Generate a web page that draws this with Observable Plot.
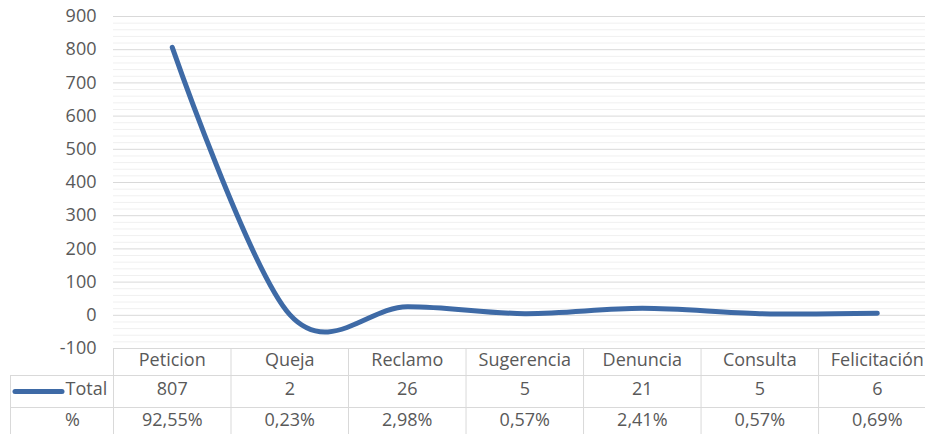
<!DOCTYPE html>
<html>
<head>
<meta charset="utf-8">
<script src="https://cdn.jsdelivr.net/npm/d3@7"></script>
<script src="https://cdn.jsdelivr.net/npm/@observablehq/plot@0.6"></script>
<style>
  html, body { margin: 0; padding: 0; background: #fff; }
  #chart svg { overflow: visible; display: block; }
</style>
</head>
<body>
<div id="chart"></div>
<script>
const categories = ["Peticion", "Queja", "Reclamo", "Sugerencia", "Denuncia", "Consulta", "Felicitación"];
const totals = [807, 2, 26, 5, 21, 5, 6];
const percents = ["92,55%", "0,23%", "2,98%", "0,57%", "2,41%", "0,57%", "0,69%"];
const majorTicks = [-100, 0, 100, 200, 300, 400, 500, 600, 700, 800, 900];
const minorTicks = d3.range(-80, 900, 20).filter(v => v % 100 !== 0);

const rows = categories.map((c, i) => ({i, category: c, total: totals[i], pct: percents[i]}));
const bounds = d3.range(categories.length + 1).map(k => k - 0.5);

const font = "'Open Sans', sans-serif";
const grey = "#595959";
const gridC = "#d9d9d9";
const blue = "#3e6aa6";
const fs = 18;

const plot = Plot.plot({
  width: 925,
  height: 434,
  marginTop: 16,
  marginBottom: 86,
  marginLeft: 113,
  marginRight: 0,
  style: {fontFamily: font, fontSize: fs + "px", color: grey, background: "#fff"},
  x: {type: "linear", domain: [-0.5, 6.41], axis: null},
  y: {domain: [-100, 900], ticks: majorTicks, tickSize: 0, tickPadding: 17, label: null, tickFormat: d => String(d)},
  marks: [
    Plot.ruleY(minorTicks, {stroke: "#f0f0f0", strokeWidth: 1}),
    Plot.ruleY(majorTicks, {stroke: gridC, strokeWidth: 1}),
    // table vertical lines (header + rows)
    Plot.ruleX(bounds, {x: d => d, stroke: gridC, insetTop: 332, insetBottom: -86}),
    // left label column border
    Plot.ruleX([-0.5], {x: d => d, stroke: gridC, dx: -103, insetTop: 359, insetBottom: -86}),
    // table horizontal lines
    Plot.ruleY([-100], {y: d => d, x1: -0.5, x2: 6.41, stroke: gridC, dy: 27, insetLeft: -103}),
    Plot.ruleY([-100], {y: d => d, x1: -0.5, x2: 6.41, stroke: gridC, dy: 59, insetLeft: -103}),
    // legend key
    Plot.ruleY([-100], {y: d => d, x1: -0.5, x2: -0.5, insetLeft: -98, insetRight: 51, dy: 43, stroke: blue, strokeWidth: 5, strokeLinecap: "round"}),
    Plot.text(["Total"], {x: -0.5, frameAnchor: "bottom", dx: -48, dy: 46, text: d => d, textAnchor: "start", fill: grey, fontSize: fs}),
    Plot.text(["%"], {x: -0.5, frameAnchor: "bottom", dx: -41, dy: 77, text: d => d, fill: grey, fontSize: fs}),
    // table cells
    Plot.text(rows, {x: "i", frameAnchor: "bottom", dy: 17, text: "category", fill: grey, fontSize: fs}),
    Plot.text(rows, {x: "i", frameAnchor: "bottom", dy: 46, text: d => String(d.total), fill: grey, fontSize: fs}),
    Plot.text(rows, {x: "i", frameAnchor: "bottom", dy: 77, text: "pct", fill: grey, fontSize: fs}),
    // the smoothed line
    Plot.line(rows, {x: "i", y: "total", curve: "cardinal", stroke: blue, strokeWidth: 5, strokeLinecap: "round"})
  ]
});
document.getElementById("chart").appendChild(plot);
</script>
</body>
</html>
